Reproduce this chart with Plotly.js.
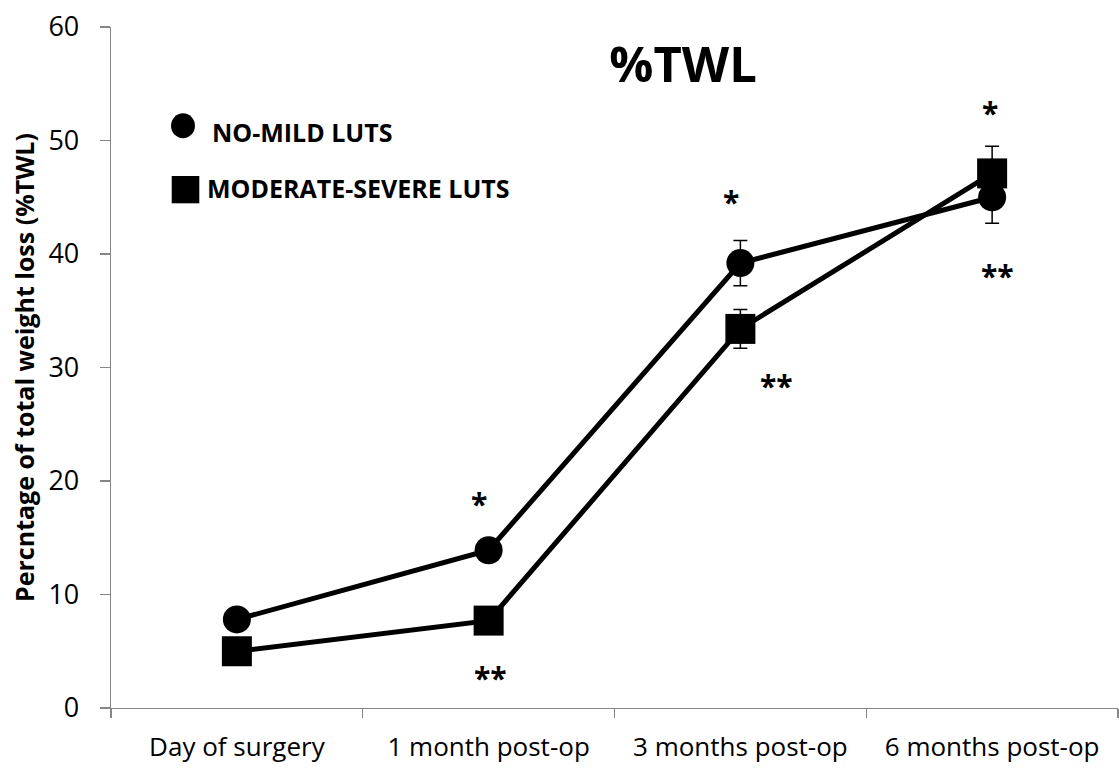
<!DOCTYPE html>
<html>
<head>
<meta charset="utf-8">
<script src="https://cdn.plot.ly/plotly-3.0.1.min.js"></script>
<style>
  html, body { margin: 0; padding: 0; background: #fff; }
  #chart { width: 1119px; height: 769px; }
</style>
</head>
<body>
<div id="chart"></div>
<script>
// ---- data ----
const categories = ['Day of surgery', '1 month post-op', '3 months post-op', '6 months post-op'];
const seriesNames = ['NO-MILD LUTS', 'MODERATE-SEVERE LUTS'];
const noMildTWL = [7.8, 13.9, 39.2, 45.0];
const noMildErr = [0.8, 0.9, 2.0, 2.3];
const modSevereTWL = [5.0, 7.7, 33.4, 47.1];
const modSevereErr = [0.8, 0.9, 1.7, 2.4];
const yTickVals = [0, 10, 20, 30, 40, 50, 60];
const starLabels = ['*', '**', '*', '**', '*', '**'];
const starCategory = [1, 1, 2, 2, 3, 3];

// ---- styling / placement ----
const FONT = 'Open Sans, sans-serif';
const AXIS_GREY = '#868686';
const starPlacement = [
  {dx: -0.038, y: 18.0},
  {dx: 0.006, y: 2.7},
  {dx: -0.037, y: 44.6},
  {dx: 0.142, y: 28.4},
  {dx: -0.008, y: 52.5},
  {dx: 0.02, y: 38.1}
];

const traceNoMild = {
  type: 'scatter', mode: 'lines+markers', name: seriesNames[0],
  x: categories, y: noMildTWL,
  line: {color: '#000', width: 5},
  marker: {symbol: 'circle', size: 28, color: '#000'},
  error_y: {type: 'data', array: noMildErr, visible: true, color: '#000', thickness: 1.5, width: 7},
  showlegend: false, cliponaxis: false
};
const traceModSevere = {
  type: 'scatter', mode: 'lines+markers', name: seriesNames[1],
  x: categories, y: modSevereTWL,
  line: {color: '#000', width: 5},
  marker: {symbol: 'square', size: 30, color: '#000'},
  error_y: {type: 'data', array: modSevereErr, visible: true, color: '#000', thickness: 1.5, width: 7},
  showlegend: false, cliponaxis: false
};

const annotations = starLabels.map((t, i) => ({
  text: t, xref: 'x', yref: 'y',
  x: starCategory[i] + starPlacement[i].dx, y: starPlacement[i].y,
  xanchor: 'center', yanchor: 'middle', showarrow: false,
  font: {family: FONT, size: 30, color: '#000', weight: 'bold'}
}));
annotations.push({
  text: seriesNames[0], xref: 'paper', yref: 'paper', x: 0.0985, y: 0.8458,
  xanchor: 'left', yanchor: 'middle', showarrow: false,
  font: {family: FONT, size: 25, color: '#000', weight: 'bold'}
});
annotations.push({
  text: seriesNames[1], xref: 'paper', yref: 'paper', x: 0.0930, y: 0.7636,
  xanchor: 'left', yanchor: 'middle', showarrow: false,
  font: {family: FONT, size: 25, color: '#000', weight: 'bold'}
});

const shapes = [
  {type: 'circle', xref: 'paper', yref: 'paper', x0: 0.0596, x1: 0.0834, y0: 0.8366, y1: 0.8733,
   fillcolor: '#000', line: {width: 0}},
  {type: 'rect', xref: 'paper', yref: 'paper', x0: 0.0603, x1: 0.0877, y0: 0.7411, y1: 0.7812,
   fillcolor: '#000', line: {width: 0}}
];

const layout = {
  width: 1119, height: 769,
  margin: {l: 111, r: 1, t: 27, b: 61},
  paper_bgcolor: '#fff', plot_bgcolor: '#fff',
  font: {family: FONT, color: '#000'},
  title: {
    text: '%TWL', xref: 'container', yref: 'container', x: 0.6104, y: 0.9155,
    xanchor: 'center', yanchor: 'middle',
    font: {family: FONT, size: 49, color: '#000', weight: 'bold'}
  },
  xaxis: {
    type: 'category', range: [-0.5, 3.5], tickson: 'boundaries',
    showline: true, linecolor: AXIS_GREY, linewidth: 1.3,
    ticks: 'outside', ticklen: 9, tickcolor: AXIS_GREY, tickwidth: 1.3,
    showgrid: false, zeroline: false, ticklabelstandoff: 15,
    tickfont: {family: FONT, size: 26, color: '#000'}
  },
  yaxis: {
    range: [0, 60], tickvals: yTickVals, ticktext: yTickVals.map(String),
    showline: true, linecolor: AXIS_GREY, linewidth: 1.3,
    ticks: 'outside', ticklen: 10, tickcolor: AXIS_GREY, tickwidth: 1.3,
    showgrid: false, zeroline: false, ticklabelstandoff: 15,
    tickfont: {family: FONT, size: 27, color: '#000'},
    title: {text: 'Percntage of total weight loss (%TWL)', standoff: 6,
            font: {family: FONT, size: 25, color: '#000', weight: 'bold'}}
  },
  showlegend: false,
  annotations: annotations,
  shapes: shapes
};

Plotly.newPlot('chart', [traceNoMild, traceModSevere], layout, {displayModeBar: false, staticPlot: true});
</script>
</body>
</html>
